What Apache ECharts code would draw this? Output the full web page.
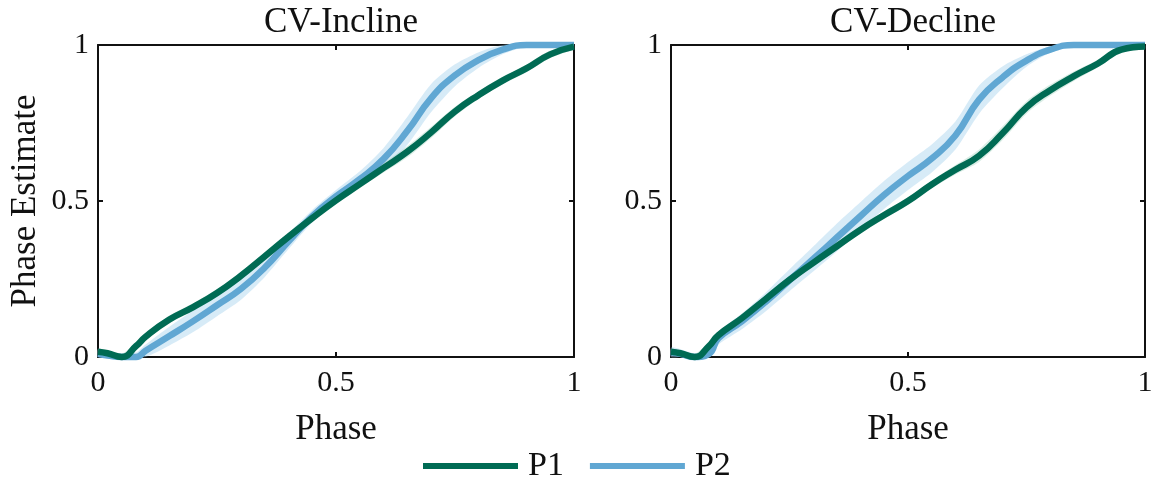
<!DOCTYPE html>
<html>
<head>
<meta charset="utf-8">
<script src="https://cdn.jsdelivr.net/npm/echarts@6/dist/echarts.min.js"></script>
<style>
  html, body { margin: 0; padding: 0; background: #fff; }
  #chart { width: 1161px; height: 487px; }
</style>
</head>
<body>
<div id="chart"></div>
<script>
// phase grid shared by all curves
var phase = [0, 0.02, 0.05, 0.08, 0.1, 0.15, 0.2, 0.25, 0.3, 0.35, 0.4, 0.45, 0.5,
             0.55, 0.6, 0.65, 0.7, 0.75, 0.8, 0.85, 0.9, 0.95, 1]

// CV-Incline
var inclineP1 = [0.017, 0.012, 0.0, 0.035, 0.065, 0.12, 0.16, 0.205, 0.26, 0.322, 0.385, 0.445, 0.502,
                 0.554, 0.606, 0.658, 0.72, 0.787, 0.84, 0.886, 0.925, 0.97, 0.995]
var inclineP2 = [0.01, 0.005, 0.0, 0.0, 0.02, 0.067, 0.115, 0.166, 0.218, 0.286, 0.37, 0.451, 0.515,
                 0.57, 0.635, 0.725, 0.83, 0.903, 0.952, 0.985, 1.0, 1.0, 1.0]
var inclineBandP1 = [0.01, 0.01, 0.01, 0.012, 0.012, 0.012, 0.012, 0.012, 0.012, 0.012, 0.012, 0.012, 0.012,
                     0.012, 0.015, 0.018, 0.018, 0.015, 0.012, 0.012, 0.012, 0.012, 0.008]
var inclineBandP2 = [0.015, 0.012, 0.012, 0.015, 0.02, 0.03, 0.035, 0.035, 0.035, 0.03, 0.025, 0.02, 0.02,
                     0.025, 0.035, 0.045, 0.045, 0.035, 0.025, 0.015, 0.005, 0.0, 0.0]

// CV-Decline
var declineP1 = [0.017, 0.012, 0.0, 0.035, 0.07, 0.125, 0.186, 0.247, 0.302, 0.355, 0.408, 0.455, 0.5,
                 0.553, 0.6, 0.645, 0.718, 0.8, 0.855, 0.9, 0.94, 0.985, 0.995]
var declineP2 = [0.015, 0.01, 0.0, 0.01, 0.06, 0.115, 0.177, 0.246, 0.314, 0.383, 0.452, 0.52, 0.58,
                 0.636, 0.71, 0.825, 0.897, 0.95, 0.985, 1.0, 1.0, 1.0, 1.0]
var declineBandP1 = [0.01, 0.01, 0.01, 0.012, 0.012, 0.012, 0.012, 0.012, 0.012, 0.012, 0.012, 0.012, 0.012,
                     0.012, 0.015, 0.02, 0.022, 0.02, 0.018, 0.015, 0.012, 0.01, 0.008]
var declineBandP2 = [0.015, 0.015, 0.012, 0.015, 0.02, 0.025, 0.03, 0.035, 0.04, 0.045, 0.045, 0.045, 0.045,
                     0.045, 0.045, 0.045, 0.035, 0.02, 0.01, 0.005, 0.0, 0.0, 0.0]

var panelTitles = ['CV-Incline', 'CV-Decline']

var green = '#006b54'
var blue = '#60a7d3'
var greenBand = 'rgba(120, 190, 160, 0.28)'
var blueBand = 'rgba(160, 208, 235, 0.42)'
var font = '"Liberation Serif", "Times New Roman", serif'

function pairs(ys) {
  return phase.map(function (p, i) { return [p, ys[i]] })
}

// shaded band drawn as one polygon through the axes' coord()
function bandSeries(ys, hw, color, idx) {
  var data = phase.map(function (p, i) {
    return [p, Math.max(0, ys[i] - hw[i]), Math.min(1, ys[i] + hw[i])]
  })
  return {
    type: 'custom', xAxisIndex: idx * 2, yAxisIndex: idx * 2, silent: true,
    data: data,
    renderItem: function (params, api) {
      if (params.dataIndex !== 0) return null
      var upper = data.map(function (d) { return api.coord([d[0], d[2]]) })
      var lower = data.map(function (d) { return api.coord([d[0], d[1]]) }).reverse()
      return {
        type: 'polygon',
        shape: { points: upper.concat(lower), smooth: 0.25 },
        style: { fill: color, stroke: null }
      }
    }
  }
}

function lineSeries(name, ys, color, idx) {
  return {
    name: name, type: 'line', xAxisIndex: idx * 2, yAxisIndex: idx * 2,
    smooth: true, symbol: 'none', clip: false,
    lineStyle: { color: color, width: 6.5 },
    itemStyle: { color: color },
    data: pairs(ys)
  }
}

var grids = [
  { left: 98, top: 45, width: 476, height: 312 },
  { left: 671, top: 45, width: 474, height: 312 }
]

var xAxes = [], yAxes = []
grids.forEach(function (g, i) {
  var common = {
    gridIndex: i, type: 'value', min: 0, max: 1, interval: 0.5,
    splitLine: { show: false },
    axisLine: { show: true, onZero: false, lineStyle: { color: '#111', width: 2 } },
    axisTick: { show: true, inside: true, length: 5, lineStyle: { color: '#111', width: 2 } }
  }
  xAxes.push(Object.assign({}, common, {
    position: 'bottom',
    name: 'Phase', nameLocation: 'middle', nameGap: 55,
    nameTextStyle: { fontFamily: font, fontSize: 35, color: '#111' },
    axisLabel: { fontFamily: font, fontSize: 30, color: '#111', margin: 11 }
  }))
  xAxes.push(Object.assign({}, common, { position: 'top', axisLabel: { show: false } }))
  yAxes.push(Object.assign({}, common, {
    position: 'left',
    name: i === 0 ? 'Phase Estimate' : '', nameLocation: 'middle', nameGap: 55,
    nameTextStyle: { fontFamily: font, fontSize: 35, color: '#111' },
    axisLabel: { fontFamily: font, fontSize: 30, color: '#111', margin: 9 }
  }))
  yAxes.push(Object.assign({}, common, { position: 'right', axisLabel: { show: false } }))
})

var series = []
series.push(bandSeries(inclineP2, inclineBandP2, blueBand, 0))
series.push(bandSeries(inclineP1, inclineBandP1, greenBand, 0))
series.push(lineSeries('P2', inclineP2, blue, 0))
series.push(lineSeries('P1', inclineP1, green, 0))
series.push(bandSeries(declineP2, declineBandP2, blueBand, 1))
series.push(bandSeries(declineP1, declineBandP1, greenBand, 1))
series.push(lineSeries('P2', declineP2, blue, 1))
series.push(lineSeries('P1', declineP1, green, 1))

var chart = echarts.init(document.getElementById('chart'))
chart.setOption({
  animation: false,
  backgroundColor: '#fff',
  title: panelTitles.map(function (t, i) {
    return {
      text: t, left: grids[i].left + grids[i].width / 2, top: 0, textAlign: 'center',
      textStyle: { fontFamily: font, fontSize: 35, fontWeight: 'normal', color: '#111' }
    }
  }),
  legend: {
    data: ['P1', 'P2'],
    left: 423, top: 449, padding: 0,
    icon: 'rect', itemWidth: 95, itemHeight: 6, itemGap: 26,
    textStyle: { fontFamily: font, fontSize: 34, color: '#111', padding: [0, 0, 0, 5] }
  },
  grid: grids,
  xAxis: xAxes,
  yAxis: yAxes,
  series: series
})
</script>
</body>
</html>
